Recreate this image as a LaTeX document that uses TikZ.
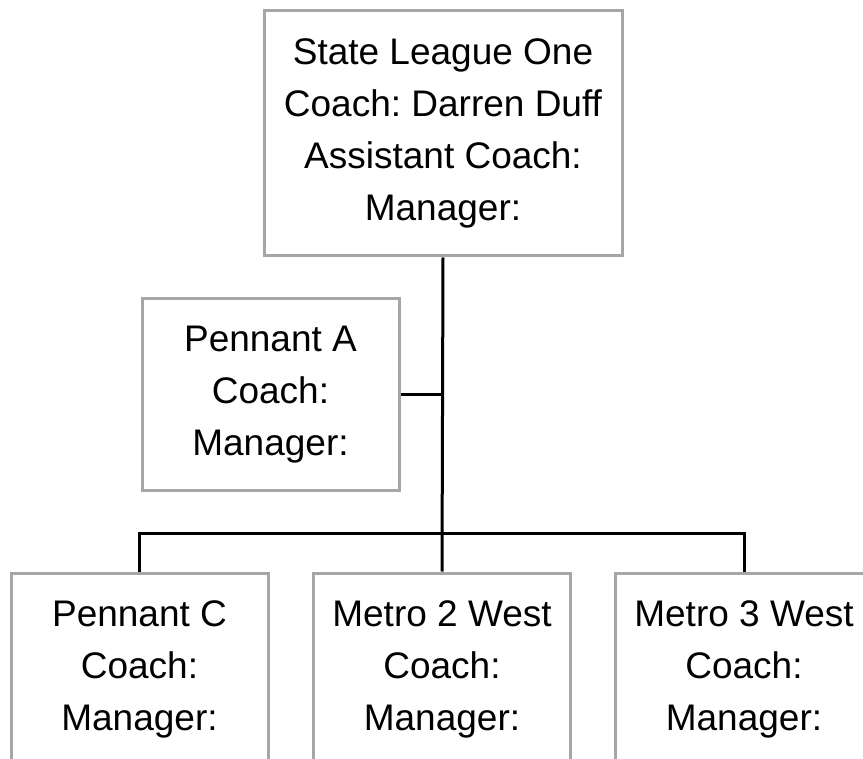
\documentclass[tikz,border=0pt]{standalone}
\usepackage{fontspec}
\setmainfont{Liberation Sans}
\frenchspacing
\begin{document}
\begin{tikzpicture}[x=1pt,y=-1pt,
  box/.style={draw=boxgray, line width=3pt, fill=white, inner sep=0pt,
    minimum width=257pt, minimum height=192pt, align=center,
    font=\fontsize{37}{52}\selectfont},
  link/.style={draw=black, line width=3pt}]
\definecolor{boxgray}{HTML}{A6A6A6}
\useasboundingbox[fill=white] (0,0) rectangle (863,759);
\begin{scope}
\clip (0,0) rectangle (863,759);
\node[box, minimum width=358pt, minimum height=245pt] (top) at (443,133.5)
  {\frenchspacing State League One\\Coach: Darren Duff\\Assistant Coach:\\Manager:};
\node[box] (pa) at (270.5,395) {Pennant A\\Coach:\\Manager:};
\node[box] (pc) at (139.5,669) {Pennant C\\Coach:\\Manager:};
\node[box] (m2) at (442,669) {Metro 2 West\\Coach:\\Manager:};
\node[box] (m3) at (744,669) {Metro 3 West\\Coach:\\Manager:};
\coordinate (bar) at (442,533);
\draw[link] (top.south) -- (m2.north);
\draw[link] (pa.east) -- (pa.east -| top.south);
\draw[link] (pc.north) |- (m3.north |- bar) -- (m3.north);
\end{scope}
\end{tikzpicture}
\end{document}
